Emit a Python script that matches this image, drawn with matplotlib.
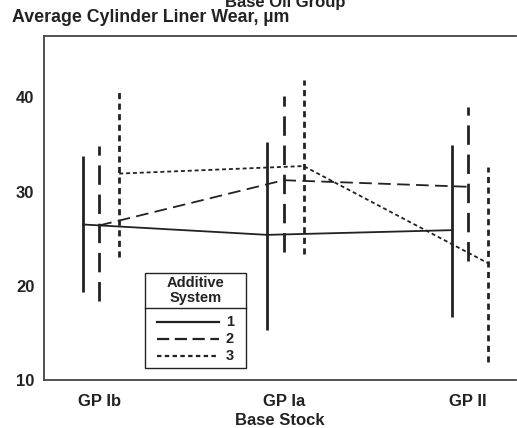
import matplotlib
matplotlib.use("Agg")
import matplotlib.pyplot as plt
from matplotlib.lines import Line2D
from matplotlib.patches import Rectangle
import numpy as np

plt.rcParams['font.family'] = ['Liberation Sans', 'DejaVu Sans']
plt.rcParams['font.weight'] = 'bold'

categories = ["GP Ib", "GP Ia", "GP II"]
series_names = ["1", "2", "3"]
means = {
    "1": [26.5, 25.4, 25.9],
    "2": [26.4, 31.2, 30.5],
    "3": [31.9, 32.7, 22.4],
}
lows = {
    "1": [19.3, 15.3, 16.7],
    "2": [18.4, 23.6, 22.6],
    "3": [23.1, 23.4, 11.9],
}
highs = {
    "1": [33.8, 35.3, 34.9],
    "2": [34.8, 40.1, 39.0],
    "3": [41.0, 41.8, 32.6],
}
offsets = {"1": -0.088, "2": 0.0, "3": 0.108}
yticks = [10, 20, 30, 40]
legend_title = ["Additive", "System"]

col = "#222222"
styles = {
    "1": dict(linestyle="-"),
    "2": dict(linestyle=(0, (7, 3.5))),
    "3": dict(linestyle=(0, (2.2, 1.6))),
}
leg_styles = {
    "1": "-",
    "2": (0, (5.5, 2.5)),
    "3": (0, (2.0, 1.5)),
}

W, H = 517, 428
fig = plt.figure(figsize=(W / 100, H / 100), dpi=100)
ax = fig.add_axes([44 / W, (H - 380) / H, (516 - 44) / W, (380 - 36) / H])

x = np.arange(len(categories))
for s in series_names:
    xs = x + offsets[s]
    ax.vlines(xs, lows[s], highs[s], colors=col, linewidth=2.0, **styles[s])
    ax.plot(xs, means[s], color=col, linewidth=1.3, **styles[s])

ax.set_xlim(-0.30, 2.26)
ax.set_ylim(10, 46.5)
ax.set_yticks(yticks)
ax.set_yticklabels([str(t) for t in yticks], fontsize=12, fontweight="bold")
ax.set_xticks(x)
ax.set_xticklabels(categories, fontsize=12, fontweight="bold")
ax.tick_params(axis="both", length=0, colors="#222222")
ax.tick_params(axis="y", pad=7)
ax.tick_params(axis="x", pad=10)
ax.spines["right"].set_visible(False)
for sp in ["left", "top", "bottom"]:
    ax.spines[sp].set_color("#444444")
    ax.spines[sp].set_linewidth(1.3)

ax.set_xlabel("Base Stock", fontsize=12, fontweight="bold", labelpad=3,
              color="#222222")

fig.text(12 / W, 1 - 18 / H, "Average Cylinder Liner Wear, µm", fontsize=12.8,
         fontweight="bold", va="center", ha="left", color="#222222")
fig.text(285 / W, 1 - 2 / H, "Base Oil Group", fontsize=12,
         fontweight="bold", va="center", ha="center", color="#222222")

# legend box drawn manually (pixel layout from the reference)
def fx(px):
    return px / W

def fy(py):
    return 1 - py / H

box_l, box_r, box_t, box_b = 145, 246, 273, 368
fig.add_artist(Rectangle((fx(box_l), fy(box_b)), fx(box_r) - fx(box_l),
                         fy(box_t) - fy(box_b), transform=fig.transFigure,
                         facecolor="white", edgecolor=col, linewidth=1.0,
                         zorder=5))
fig.add_artist(Line2D([fx(box_l), fx(box_r)], [fy(307.5), fy(307.5)],
                      transform=fig.transFigure, color=col, linewidth=1.0,
                      zorder=6))
for i, t in enumerate(legend_title):
    fig.text(fx((box_l + box_r) / 2), fy(283 + 15 * i), t, fontsize=10.5,
             fontweight="bold", ha="center", va="center", color=col, zorder=6)
for i, s in enumerate(series_names):
    yy = fy(322 + 17 * i)
    fig.add_artist(Line2D([fx(157), fx(219)], [yy, yy],
                          transform=fig.transFigure, color=col, linewidth=1.6,
                          linestyle=leg_styles[s], zorder=6))
    fig.text(fx(226), yy, s, fontsize=10.5, fontweight="bold", ha="left",
             va="center", color=col, zorder=6)

fig.savefig("out.png", dpi=100)
